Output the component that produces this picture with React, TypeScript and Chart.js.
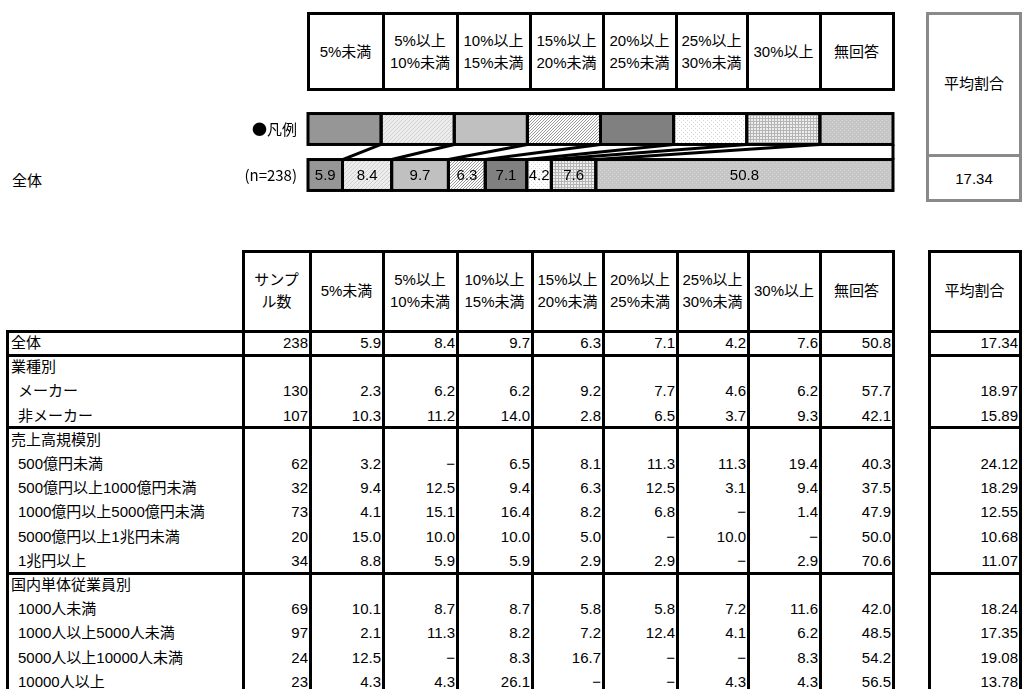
import { useEffect, useRef } from 'react';
import { Chart, registerables } from 'chart.js';

Chart.register(...registerables);

const FONT = '"Liberation Sans", "Noto Sans CJK JP", sans-serif';
const CJK_FONT = '"Noto Sans CJK JP", "Liberation Sans", sans-serif';

// Answer bands: share of the budget, shown as column headers
const bandHeaders: string[][] = [
  ['5%未満'],
  ['5%以上', '10%未満'],
  ['10%以上', '15%未満'],
  ['15%以上', '20%未満'],
  ['20%以上', '25%未満'],
  ['25%以上', '30%未満'],
  ['30%以上'],
  ['無回答'],
];
const bandLabels = bandHeaders.map((l) => l.join(''));
const sampleHeader = ['サンプ', 'ル数'];
const averageHeader = '平均割合';
const legendLabel = '●凡例';

// Every key box in the legend row takes an equal share of the axis
const legendKeyShare = [12.5, 12.5, 12.5, 12.5, 12.5, 12.5, 12.5, 12.5];

const totalLabel = '全体';
const totalN = 238;
const totalPct = [5.9, 8.4, 9.7, 6.3, 7.1, 4.2, 7.6, 50.8];
const totalAvg = 17.34;

const industryTitle = '業種別';
const industryLabels = ['メーカー', '非メーカー'];
const industryN = [130, 107];
const industryPct: (number | null)[][] = [
  [2.3, 6.2, 6.2, 9.2, 7.7, 4.6, 6.2, 57.7],
  [10.3, 11.2, 14.0, 2.8, 6.5, 3.7, 9.3, 42.1],
];
const industryAvg = [18.97, 15.89];

const salesTitle = '売上高規模別';
const salesLabels = [
  '500億円未満',
  '500億円以上1000億円未満',
  '1000億円以上5000億円未満',
  '5000億円以上1兆円未満',
  '1兆円以上',
];
const salesN = [62, 32, 73, 20, 34];
const salesPct: (number | null)[][] = [
  [3.2, null, 6.5, 8.1, 11.3, 11.3, 19.4, 40.3],
  [9.4, 12.5, 9.4, 6.3, 12.5, 3.1, 9.4, 37.5],
  [4.1, 15.1, 16.4, 8.2, 6.8, null, 1.4, 47.9],
  [15.0, 10.0, 10.0, 5.0, null, 10.0, null, 50.0],
  [8.8, 5.9, 5.9, 2.9, 2.9, null, 2.9, 70.6],
];
const salesAvg = [24.12, 18.29, 12.55, 10.68, 11.07];

const staffTitle = '国内単体従業員別';
const staffLabels = ['1000人未満', '1000人以上5000人未満', '5000人以上10000人未満', '10000人以上'];
const staffN = [69, 97, 24, 23];
const staffPct: (number | null)[][] = [
  [10.1, 8.7, 8.7, 5.8, 5.8, 7.2, 11.6, 42.0],
  [2.1, 11.3, 8.2, 7.2, 12.4, 4.1, 6.2, 48.5],
  [12.5, null, 8.3, 16.7, null, null, 8.3, 54.2],
  [4.3, 4.3, 26.1, null, null, 4.3, 4.3, 56.5],
];
const staffAvg = [18.24, 17.35, 19.08, 13.78];

// ---- layout ----
const TOP_COLS = [308, 383, 457, 530, 603, 676, 747, 820, 893];
const TABLE_COLS = [243, 310, 383, 457, 532, 603, 677, 748, 820, 893];
const TABLE_LEFT = 7;
const AVG_COL = [929, 1020];
const HEAD_TOP = 251;
const HEAD_BOTTOM = 331;
const ROW_H = 24.2;

const CANVAS_TOP = 94;
const CANVAS_W = 910;
const CANVAS_H = 116;

// ---- fills ----
function tile(size: number, bg: string, fg: string, cells: [number, number][]) {
  const c = document.createElement('canvas');
  c.width = size;
  c.height = size;
  const g = c.getContext('2d')!;
  g.fillStyle = bg;
  g.fillRect(0, 0, size, size);
  g.fillStyle = fg;
  cells.forEach(([x, y]) => g.fillRect(x, y, 1, 1));
  return g.createPattern(c, 'repeat')!;
}

function makeFills(): (string | CanvasPattern)[] {
  return [
    '#969696',
    tile(4, '#ededed', '#d0d0d0', [[0, 3], [1, 2], [2, 1], [3, 0]]),
    '#c0c0c0',
    tile(3, '#ffffff', '#9a9a9a', [[0, 2], [1, 1], [2, 0]]),
    '#808080',
    tile(4, '#ffffff', '#d6d6d6', [[1, 0], [3, 2]]),
    tile(3, '#eeeeee', '#b4b4b4', [[0, 0], [1, 0], [2, 0], [0, 1], [0, 2]]),
    tile(4, '#c6c6c6', '#d6d6d6', [[0, 0], [2, 2]]),
  ];
}

const outlinePlugin = {
  id: 'keyOutline',
  afterDatasetsDraw(chart: any) {
    const { ctx } = chart;
    const metas = chart.getSortedVisibleDatasetMetas();
    ctx.save();
    ctx.strokeStyle = '#000';
    ctx.lineWidth = 3;
    // connectors from each key box to its segment
    metas.forEach((meta: any) => {
      const key = meta.data[0];
      const seg = meta.data[1];
      ctx.beginPath();
      ctx.moveTo(key.x, key.y + key.height / 2);
      ctx.lineTo(seg.x, seg.y - seg.height / 2);
      ctx.stroke();
    });
    metas.forEach((meta: any) =>
      meta.data.forEach((el: any) => {
        ctx.strokeRect(el.base, el.y - el.height / 2, el.x - el.base, el.height);
      })
    );
    ctx.fillStyle = '#000';
    ctx.font = `15px ${FONT}`;
    ctx.textAlign = 'center';
    ctx.textBaseline = 'middle';
    metas.forEach((meta: any) => {
      const el = meta.data[1];
      const v = chart.data.datasets[meta.index].data[1] as number;
      ctx.fillText(v.toFixed(1), (el.base + el.x) / 2, el.y + 1);
    });
    ctx.restore();
  },
};

type Row = { label: string; indent: boolean; n?: number; pct?: (number | null)[]; avg?: number };

function buildRows(): Row[] {
  const rows: Row[] = [{ label: totalLabel, indent: false, n: totalN, pct: totalPct, avg: totalAvg }];
  const add = (title: string, labels: string[], n: number[], pct: (number | null)[][], avg: number[]) => {
    rows.push({ label: title, indent: false });
    labels.forEach((l, i) => rows.push({ label: l, indent: true, n: n[i], pct: pct[i], avg: avg[i] }));
  };
  add(industryTitle, industryLabels, industryN, industryPct, industryAvg);
  add(salesTitle, salesLabels, salesN, salesPct, salesAvg);
  add(staffTitle, staffLabels, staffN, staffPct, staffAvg);
  return rows;
}

let lineKey = 0;
function H(x1: number, x2: number, y: number, w = 3, c = '#000') {
  return (
    <div
      key={'l' + lineKey++}
      style={{ position: 'absolute', left: x1 - w / 2, top: y - w / 2, width: x2 - x1 + w, height: w, background: c }}
    />
  );
}
function V(x: number, y1: number, y2: number, w = 3, c = '#000') {
  return (
    <div
      key={'l' + lineKey++}
      style={{ position: 'absolute', left: x - w / 2, top: y1 - w / 2, width: w, height: y2 - y1 + w, background: c }}
    />
  );
}

function CenterText({ left, top, width, height, lines }: { left: number; top: number; width: number; height: number; lines: string[] }) {
  return (
    <div
      style={{
        position: 'absolute',
        left,
        top,
        width,
        height,
        display: 'flex',
        flexDirection: 'column',
        alignItems: 'center',
        justifyContent: 'center',
        lineHeight: '22px',
        textAlign: 'center',
        whiteSpace: 'nowrap',
      }}
    >
      {lines.map((l, i) => (
        <div key={i}>{l}</div>
      ))}
    </div>
  );
}

function RightText({ x1, x2, top, text }: { x1: number; x2: number; top: number; text: string }) {
  return (
    <div
      style={{
        position: 'absolute',
        left: x1,
        top,
        width: x2 - x1 - 2,
        height: ROW_H,
        lineHeight: ROW_H + 'px',
        textAlign: 'right',
        whiteSpace: 'nowrap',
      }}
    >
      {text}
    </div>
  );
}

export default function App() {
  const canvasRef = useRef<HTMLCanvasElement>(null);

  useEffect(() => {
    const canvas = canvasRef.current;
    if (!canvas) return;
    const fills = makeFills();
    const chart = new Chart(canvas, {
      type: 'bar',
      data: {
        labels: [legendLabel, `(n=${totalN})`],
        datasets: bandLabels.map((b, i) => ({
          label: b,
          data: [legendKeyShare[i], totalPct[i]],
          backgroundColor: fills[i] as any,
          borderWidth: 0,
          barPercentage: 1,
          categoryPercentage: 39 / 58,
        })),
      },
      options: {
        indexAxis: 'y',
        animation: false,
        responsive: false,
        maintainAspectRatio: false,
        layout: { padding: { left: 0, right: CANVAS_W - 893, top: 0, bottom: 0 } },
        plugins: { legend: { display: false }, tooltip: { enabled: false } },
        scales: {
          x: { stacked: true, min: 0, max: 100, display: false },
          y: {
            stacked: true,
            grid: { display: false },
            border: { display: false },
            ticks: { color: '#000', font: { family: CJK_FONT, size: 15 }, padding: 3 },
            afterFit: (s: any) => {
              s.width = 308;
            },
          },
        },
      },
      plugins: [outlinePlugin],
    });
    return () => chart.destroy();
  }, []);

  lineKey = 0;
  const rows = buildRows();
  const rowTop = (i: number) => HEAD_BOTTOM + i * ROW_H;
  const tableBottom = rowTop(rows.length);
  const separators = [0, 1, 1 + industryLabels.length + 1, 1 + industryLabels.length + 1 + salesLabels.length + 1].map(rowTop);

  const lines: any[] = [];
  // top header box
  lines.push(H(TOP_COLS[0], TOP_COLS[8], 13.5));
  lines.push(H(TOP_COLS[0], TOP_COLS[8], 89.5));
  TOP_COLS.forEach((x) => lines.push(V(x, 13.5, 89.5)));
  // average box at the top right
  const grey = '#8a8a8a';
  lines.push(H(927.5, 1020.5, 13.5, 3, grey));
  lines.push(H(927.5, 1020.5, 155, 3, grey));
  lines.push(H(927.5, 1020.5, 200.5, 3, grey));
  lines.push(V(927.5, 13.5, 200.5, 3, grey));
  lines.push(V(1020.5, 13.5, 200.5, 3, grey));
  // lower table
  lines.push(H(TABLE_COLS[0], TABLE_COLS[9], HEAD_TOP));
  lines.push(H(AVG_COL[0], AVG_COL[1], HEAD_TOP));
  separators.forEach((y) => {
    lines.push(H(TABLE_LEFT, TABLE_COLS[9], y));
    lines.push(H(AVG_COL[0], AVG_COL[1], y));
  });
  lines.push(V(TABLE_LEFT, HEAD_BOTTOM, tableBottom));
  TABLE_COLS.forEach((x) => lines.push(V(x, HEAD_TOP, tableBottom)));
  AVG_COL.forEach((x) => lines.push(V(x, HEAD_TOP, tableBottom)));

  const fmt = (v: number | null) => (v == null ? '−' : v.toFixed(1));

  return (
    <div
      style={{
        position: 'absolute',
        left: 0,
        top: 0,
        width: 1035,
        height: 689,
        overflow: 'hidden',
        background: '#fff',
        fontFamily: FONT,
        fontSize: 15,
        color: '#000',
      }}
    >
      {/* top header */}
      {bandHeaders.map((h, i) => (
        <CenterText key={'th' + i} left={TOP_COLS[i]} top={12} width={TOP_COLS[i + 1] - TOP_COLS[i]} height={79} lines={h} />
      ))}
      <CenterText left={926} top={12} width={96} height={143} lines={[averageHeader]} />
      <CenterText left={926} top={155} width={96} height={47} lines={[totalAvg.toFixed(2)]} />
      <div style={{ position: 'absolute', left: 12, top: 169, lineHeight: '24px' }}>{totalLabel}</div>

      <canvas
        ref={canvasRef}
        width={CANVAS_W}
        height={CANVAS_H}
        style={{ position: 'absolute', left: 0, top: CANVAS_TOP, width: CANVAS_W, height: CANVAS_H }}
      />

      {/* lower table header */}
      <CenterText left={TABLE_COLS[0]} top={HEAD_TOP} width={TABLE_COLS[1] - TABLE_COLS[0]} height={HEAD_BOTTOM - HEAD_TOP} lines={sampleHeader} />
      {bandHeaders.map((h, i) => (
        <CenterText
          key={'bh' + i}
          left={TABLE_COLS[i + 1]}
          top={HEAD_TOP}
          width={TABLE_COLS[i + 2] - TABLE_COLS[i + 1]}
          height={HEAD_BOTTOM - HEAD_TOP}
          lines={h}
        />
      ))}
      <CenterText left={AVG_COL[0]} top={HEAD_TOP} width={AVG_COL[1] - AVG_COL[0]} height={HEAD_BOTTOM - HEAD_TOP} lines={[averageHeader]} />

      {/* lower table body */}
      {rows.map((r, i) => {
        const top = rowTop(i);
        return (
          <div key={'r' + i}>
            <div
              style={{
                position: 'absolute',
                left: r.indent ? 18 : 11,
                top,
                height: ROW_H,
                lineHeight: ROW_H + 'px',
                whiteSpace: 'nowrap',
              }}
            >
              {r.label}
            </div>
            {r.n != null && <RightText x1={TABLE_COLS[0]} x2={TABLE_COLS[1]} top={top} text={String(r.n)} />}
            {r.pct &&
              r.pct.map((v, j) => (
                <RightText key={j} x1={TABLE_COLS[j + 1]} x2={TABLE_COLS[j + 2]} top={top} text={fmt(v)} />
              ))}
            {r.avg != null && <RightText x1={AVG_COL[0]} x2={AVG_COL[1]} top={top} text={r.avg.toFixed(2)} />}
          </div>
        );
      })}

      {lines}
    </div>
  );
}
